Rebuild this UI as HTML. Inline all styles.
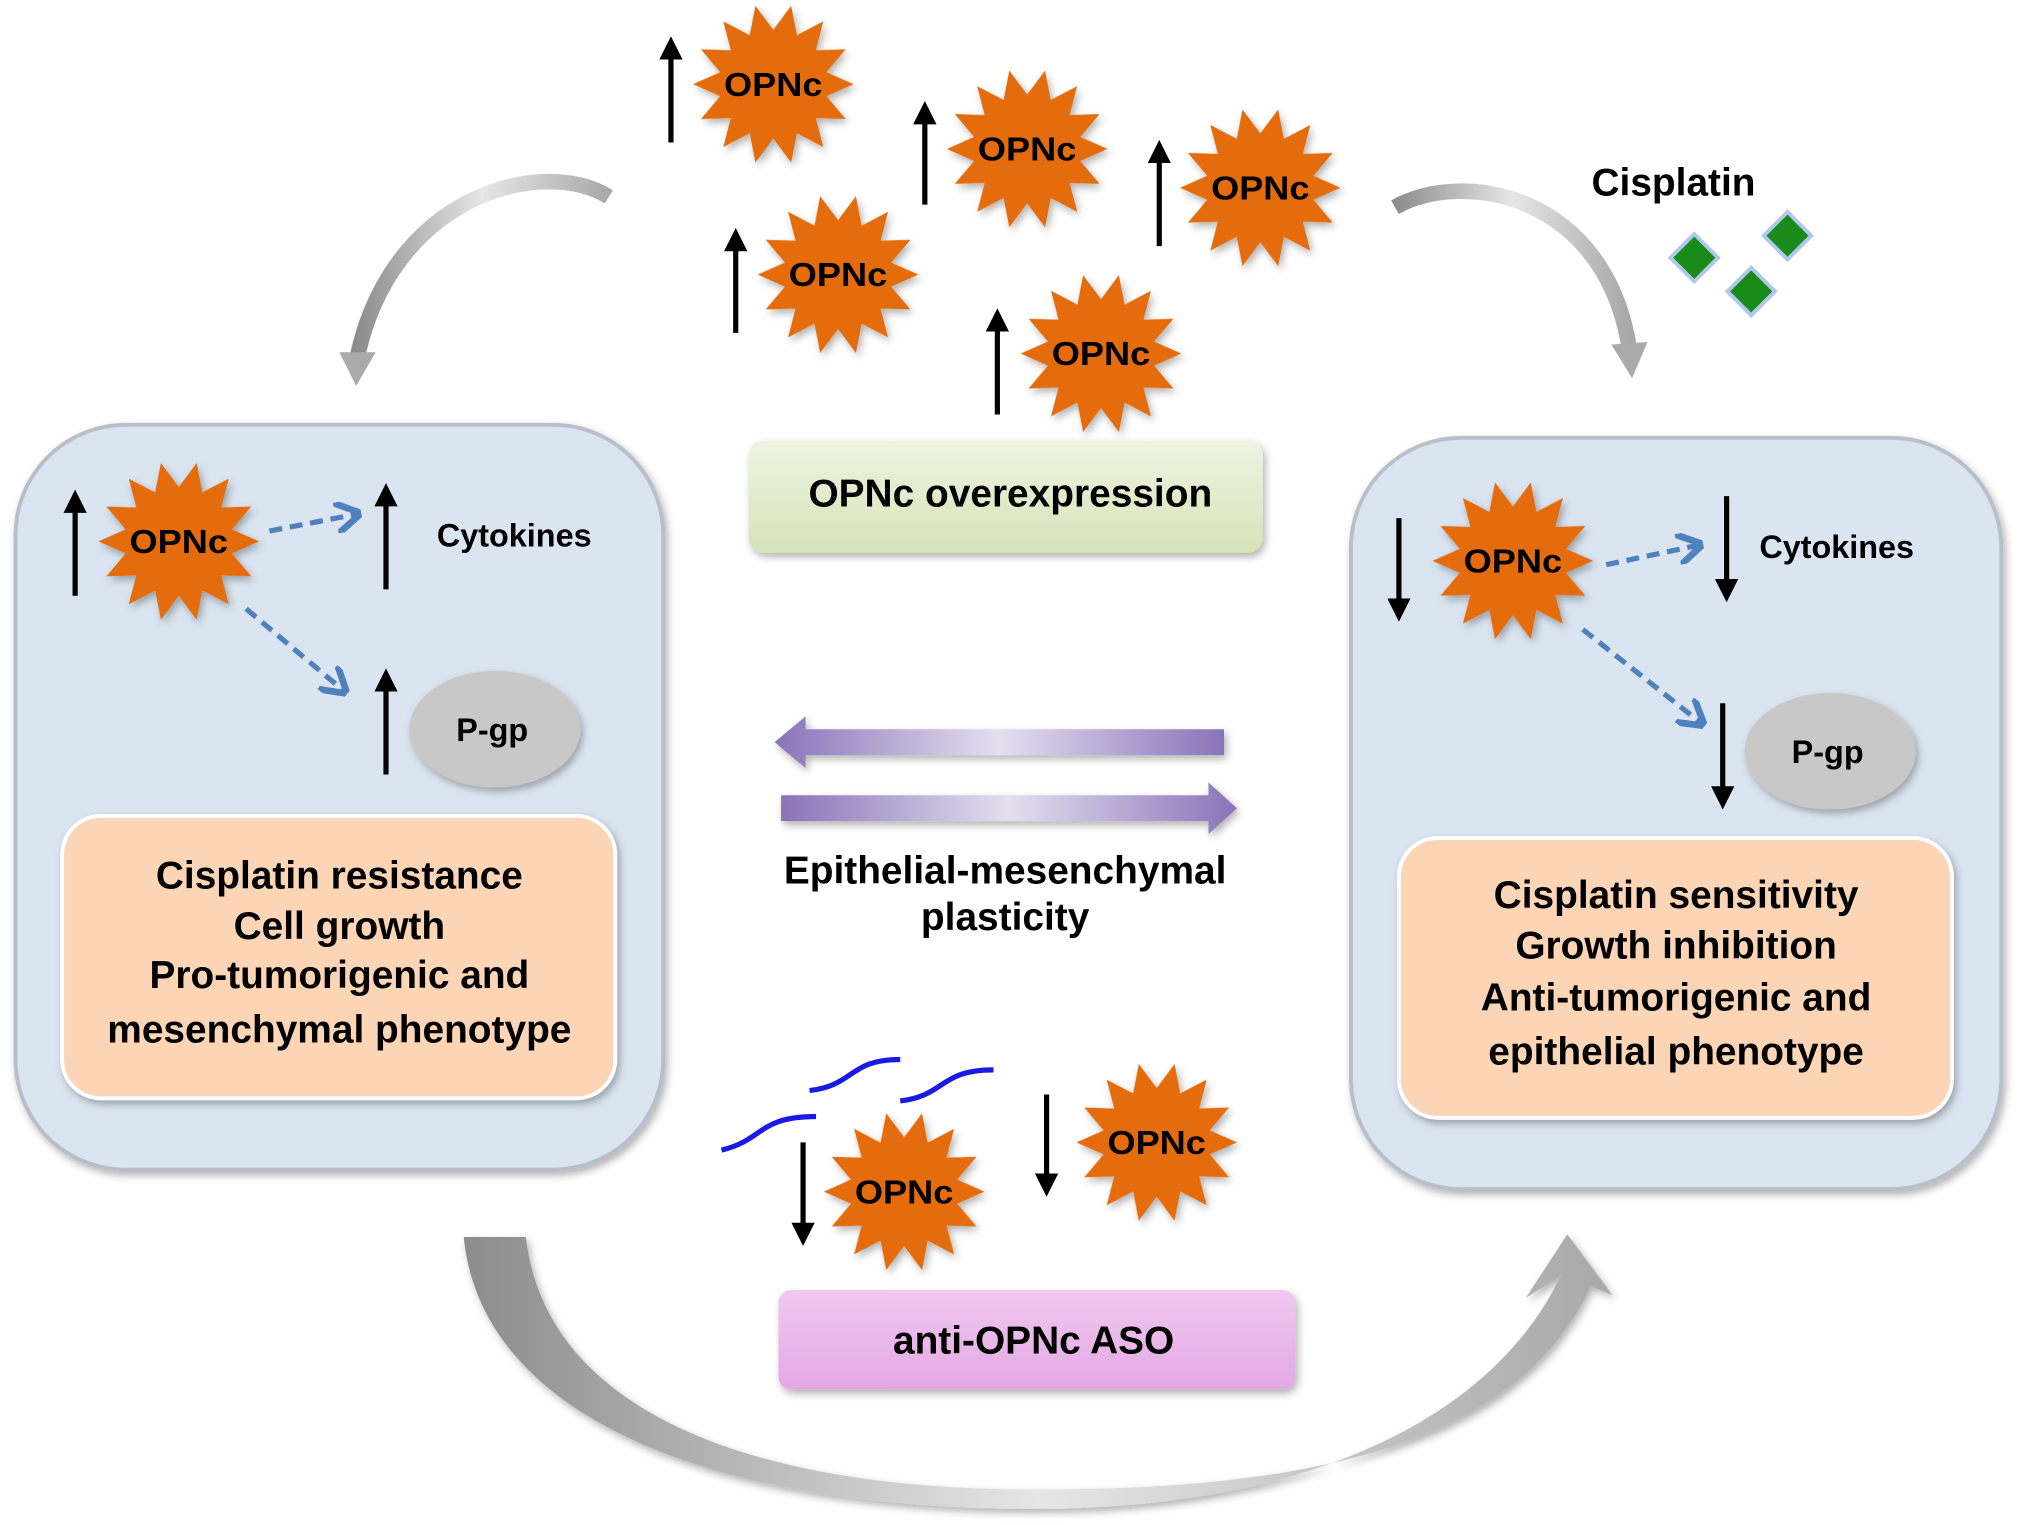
<!DOCTYPE html>
<html><head><meta charset="utf-8"><style>html,body{margin:0;padding:0;background:#fff}svg{display:block}text{font-family:"Liberation Sans",sans-serif;font-weight:bold;text-anchor:middle}</style></head>
<body>
<svg width="2031" height="1525" viewBox="0 0 1568 1177.4" preserveAspectRatio="none" xmlns="http://www.w3.org/2000/svg">
<defs>
<polygon id="star" points="62,0 41,9.3 55.9,26.9 32.8,26.2 38.6,48.5 18.2,37.8 13.8,60.5 0,42 -13.8,60.5 -18.2,37.8 -38.6,48.5 -32.8,26.2 -55.9,26.9 -41,9.3 -62,0 -41,-9.3 -55.9,-26.9 -32.8,-26.2 -38.6,-48.5 -18.2,-37.8 -13.8,-60.5 0,-42 13.8,-60.5 18.2,-37.8 38.6,-48.5 32.8,-26.2 55.9,-26.9 41,-9.3"/>
<marker id="ah" markerWidth="4.5" markerHeight="4.5" refX="2.5" refY="2.25" orient="auto" markerUnits="strokeWidth"><path d="M0,0 L4.5,2.25 L0,4.5 Z" fill="#000"/></marker>
<marker id="bh" markerWidth="5" markerHeight="6" refX="4" refY="3" orient="auto" markerUnits="strokeWidth"><path d="M0,0 L5,3 L0,6" fill="none" stroke="#4f81bd" stroke-width="1.3"/></marker>
<linearGradient id="pg" x1="0" x2="1"><stop offset="0" stop-color="#8a73b8"/><stop offset="0.5" stop-color="#e6def0"/><stop offset="1" stop-color="#8a73b8"/></linearGradient>
<linearGradient id="gg" x1="0" y1="0" x2="0" y2="1"><stop offset="0" stop-color="#eef4e2"/><stop offset="1" stop-color="#d5e3b8"/></linearGradient>
<linearGradient id="mg" x1="0" y1="0" x2="0" y2="1"><stop offset="0" stop-color="#f0c8f0"/><stop offset="1" stop-color="#e3a8e3"/></linearGradient>
<linearGradient id="ag" x1="0" y1="0" x2="1" y2="0"><stop offset="0" stop-color="#8c8c8c"/><stop offset="0.5" stop-color="#e6e6e6"/><stop offset="1" stop-color="#a8a8a8"/></linearGradient>
<filter id="sh" x="-20%" y="-20%" width="140%" height="140%"><feDropShadow dx="2" dy="3" stdDeviation="3" flood-color="#000" flood-opacity="0.3"/></filter>
</defs>

<rect x="12" y="328" width="500" height="575" rx="85" fill="#dbe5f1" stroke="#b8bfca" stroke-width="3" filter="url(#sh)"/>
<rect x="1043" y="338" width="502" height="580" rx="85" fill="#dbe5f1" stroke="#b8bfca" stroke-width="3" filter="url(#sh)"/>
<rect x="48" y="630" width="427" height="218" rx="30" fill="#fbd5b5" stroke="#fff" stroke-width="3" filter="url(#sh)"/>
<rect x="1080" y="647" width="427" height="216" rx="30" fill="#fbd5b5" stroke="#fff" stroke-width="3" filter="url(#sh)"/>
<g font-size="30">
<text x="262" y="686">Cisplatin resistance</text>
<text x="262" y="725">Cell growth</text>
<text x="262" y="763">Pro-tumorigenic and</text>
<text x="262" y="805">mesenchymal phenotype</text>
<text x="1294" y="701">Cisplatin sensitivity</text>
<text x="1294" y="740">Growth inhibition</text>
<text x="1294" y="780">Anti-tumorigenic and</text>
<text x="1294" y="822">epithelial phenotype</text>
</g>

<ellipse cx="382" cy="563" rx="66" ry="45" fill="#c8c8c8" filter="url(#sh)"/>
<ellipse cx="1413" cy="580" rx="66" ry="45" fill="#c8c8c8" filter="url(#sh)"/>
<text x="380" y="572" font-size="25">P-gp</text>
<text x="1411" y="589" font-size="25">P-gp</text>
<text x="397" y="422" font-size="25">Cytokines</text>
<text x="1418" y="431" font-size="25">Cytokines</text>

<g stroke="#4f81bd" stroke-width="4" stroke-dasharray="10,6" fill="none" marker-end="url(#bh)">
<line x1="208" y1="410" x2="275" y2="397"/>
<line x1="190" y1="470" x2="265" y2="533"/>
<line x1="1240" y1="436" x2="1311" y2="421"/>
<line x1="1222" y1="486" x2="1313" y2="558"/>
</g>

<g stroke="#000" stroke-width="4" marker-end="url(#ah)">
<line x1="518" y1="110" x2="518" y2="36"/>
<line x1="714" y1="158" x2="714" y2="86"/>
<line x1="895" y1="190" x2="895" y2="116"/>
<line x1="568" y1="257" x2="568" y2="184"/>
<line x1="770" y1="320" x2="770" y2="246"/>
<line x1="58" y1="460" x2="58" y2="386"/>
<line x1="298" y1="455" x2="298" y2="381"/>
<line x1="298" y1="598" x2="298" y2="524"/>
<line x1="1080" y1="400" x2="1080" y2="472"/>
<line x1="1333" y1="383" x2="1333" y2="457"/>
<line x1="1330" y1="543" x2="1330" y2="617"/>
<line x1="620" y1="882" x2="620" y2="954"/>
<line x1="808" y1="845" x2="808" y2="916"/>
</g>

<g fill="#e46c0a" filter="url(#sh)">
<use href="#star" x="597" y="65"/>
<use href="#star" x="793" y="115"/>
<use href="#star" x="973" y="145"/>
<use href="#star" x="647" y="212"/>
<use href="#star" x="850" y="273"/>
<use href="#star" x="138" y="418"/>
<use href="#star" x="1168" y="433"/>
<use href="#star" x="698" y="920"/>
<use href="#star" x="893" y="882"/>
</g>
<g font-size="26" lengthAdjust="spacingAndGlyphs">
<text x="597" y="74" textLength="76" lengthAdjust="spacingAndGlyphs">OPNc</text>
<text x="793" y="124" textLength="76" lengthAdjust="spacingAndGlyphs">OPNc</text>
<text x="973" y="154" textLength="76" lengthAdjust="spacingAndGlyphs">OPNc</text>
<text x="647" y="221" textLength="76" lengthAdjust="spacingAndGlyphs">OPNc</text>
<text x="850" y="282" textLength="76" lengthAdjust="spacingAndGlyphs">OPNc</text>
<text x="138" y="427" textLength="76" lengthAdjust="spacingAndGlyphs">OPNc</text>
<text x="1168" y="442" textLength="76" lengthAdjust="spacingAndGlyphs">OPNc</text>
<text x="698" y="929" textLength="76" lengthAdjust="spacingAndGlyphs">OPNc</text>
<text x="893" y="891" textLength="76" lengthAdjust="spacingAndGlyphs">OPNc</text>
</g>

<rect x="578" y="340" width="397" height="87" rx="12" fill="url(#gg)" filter="url(#sh)"/>
<text x="780" y="391" font-size="30">OPNc overexpression</text>
<rect x="601" y="996" width="399" height="77" rx="10" fill="url(#mg)" filter="url(#sh)"/>
<text x="798" y="1045" font-size="30">anti-OPNc ASO</text>

<path d="M945,563 L622,563 L622,553 L598,573 L622,593 L622,583 L945,583 Z" fill="url(#pg)" filter="url(#sh)"/>
<path d="M603,614 L933,614 L933,604 L955,624 L933,644 L933,634 L603,634 Z" fill="url(#pg)" filter="url(#sh)"/>
<text x="776" y="682" font-size="30">Epithelial-mesenchymal</text>
<text x="776" y="718" font-size="30">plasticity</text>

<text x="1292" y="151" font-size="30">Cisplatin</text>
<g fill="#1a8a1a" stroke="#b0c8ee" stroke-width="3">
<rect x="-13" y="-13" width="26" height="26" transform="translate(1308,199) rotate(45)"/>
<rect x="-13" y="-13" width="26" height="26" transform="translate(1380,182) rotate(45)"/>
<rect x="-13" y="-13" width="26" height="26" transform="translate(1352,225) rotate(45)"/>
</g>

<path d="M470,152 C420,120 300,150 275,280" fill="none" stroke="url(#ag)" stroke-width="12"/>
<path d="M262,272 L275,298 L290,272 Z" fill="#aaa"/>
<path d="M1077,160 C1130,130 1240,150 1258,270" fill="none" stroke="url(#ag)" stroke-width="12"/>
<path d="M1244,266 L1260,292 L1272,264 Z" fill="#aaa"/>
<path d="M358,955 C370,1080 520,1165 800,1165 C1000,1165 1150,1100 1205,985 L1178,1002 L1210,953 L1245,1000 L1228,993 C1170,1120 1000,1150 800,1150 C560,1150 420,1080 406,955 Z" fill="url(#ag)" filter="url(#sh)"/>

<g stroke="#1a1ae6" stroke-width="4" fill="none">
<path d="M557,888 C590,880 585,862 630,862"/>
<path d="M625,842 C660,838 655,818 695,818"/>
<path d="M695,850 C730,846 725,826 767,826"/>
</g>
</svg>
</body></html>
